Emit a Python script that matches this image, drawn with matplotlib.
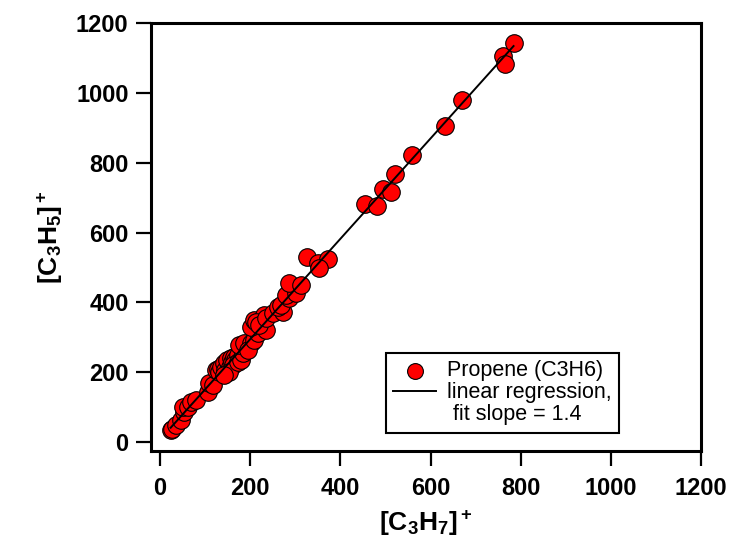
import numpy as np
import matplotlib
matplotlib.use("Agg")
import matplotlib.pyplot as plt

plt.rcParams['font.family'] = ['Liberation Sans', 'DejaVu Sans']
plt.rcParams['mathtext.fontset'] = 'custom'
plt.rcParams['mathtext.rm'] = 'Liberation Sans'
plt.rcParams['mathtext.bf'] = 'Liberation Sans:bold'

# [C3H7]+ vs [C3H5]+ signals
c3h7 = [24, 28, 36, 47, 53, 51, 62, 69, 80, 107, 109, 118, 124, 128, 131, 136,
        142, 145, 151, 148, 155, 158, 160, 164, 167, 173, 162, 153, 142, 173,
        180, 184, 176, 187, 202, 196, 209, 218, 202, 209, 224, 236, 231, 213,
        220, 236, 251, 273, 262, 269, 287, 280, 302, 287, 313, 327, 351, 373,
        353, 454, 482, 494, 512, 522, 559, 632, 669, 760, 766, 784]
c3h5 = [34, 38, 49, 63, 86, 100, 100, 114, 120, 143, 168, 163, 206, 210, 200, 214,
        225, 205, 229, 235, 215, 240, 228, 243, 236, 248, 220, 200, 191, 229,
        234, 254, 277, 283, 283, 263, 291, 311, 329, 349, 349, 320, 363, 345,
        334, 354, 369, 371, 386, 391, 411, 420, 426, 454, 449, 531, 514, 523,
        497, 681, 676, 724, 717, 768, 823, 905, 980, 1105, 1083, 1144]

x = np.array(c3h7, dtype=float)
y = np.array(c3h5, dtype=float)
slope, icpt = np.polyfit(x, y, 1)

fig = plt.figure(figsize=(7.32, 5.5), dpi=100)
ax = fig.add_axes([0.206, 0.18, 0.752, 0.778])

ax.scatter(x, y, s=160, c='#ff0000', edgecolors='black', linewidths=0.8,
           zorder=2, label='Propene (C3H6)')
xf = np.array([x.min(), x.max()])
ax.plot(xf, slope * xf + icpt, color='black', lw=1.4, zorder=3,
        label='linear regression,')
# legend-only entry for the second text line
ax.plot([], [], ' ', label=' fit slope = 1.4')

ax.set_xlim(-20, 1200)
ax.set_ylim(-26, 1200)
ax.set_xticks(np.arange(0, 1201, 200))
ax.set_yticks(np.arange(0, 1201, 200))

for sp in ax.spines.values():
    sp.set_linewidth(2.2)
ax.tick_params(direction='out', length=11, width=1.6, pad=5, labelsize=17)
ax.tick_params(axis='x', pad=8)
for lab in ax.get_xticklabels() + ax.get_yticklabels():
    lab.set_fontweight('bold')

ax.set_xlabel(r'$\mathbf{[C_3H_7]^+}$', fontsize=19, labelpad=6)
ax.set_ylabel(r'$\mathbf{[C_3H_5]^+}$', fontsize=19, labelpad=8)

leg = ax.legend(loc='lower right', bbox_to_anchor=(0.851, 0.042),
                borderaxespad=0, fontsize=15.5, frameon=True, fancybox=False,
                framealpha=1, handlelength=2.0, handletextpad=0.5,
                labelspacing=0.05, borderpad=0.35, markerscale=0.9)
leg.get_frame().set_edgecolor('black')
leg.get_frame().set_linewidth(1.5)

fig.savefig('out.png', dpi=100)
